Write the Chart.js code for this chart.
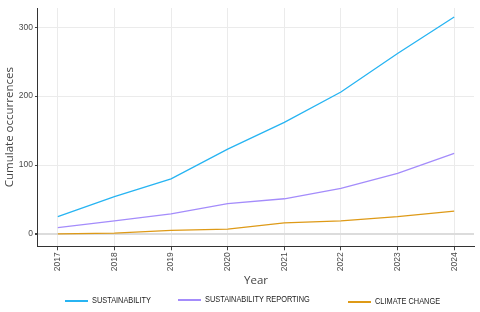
<!DOCTYPE html>
<html>
<head>
<meta charset="utf-8">
<script src="https://cdn.jsdelivr.net/npm/chart.js@4"></script>
<style>
  html, body { margin: 0; padding: 0; background: #fff; }
  .chart-container { width: 480px; height: 312px; position: relative; }
</style>
</head>
<body>
<div class="chart-container">
  <canvas id="chart"></canvas>
</div>
<script>
const years = [2017, 2018, 2019, 2020, 2021, 2022, 2023, 2024];
const yTicks = [0, 100, 200, 300];
const sustainability = [25, 54, 80, 123, 162, 206, 262, 315];
const sustainabilityReporting = [9, 19, 29, 44, 51, 66, 88, 117];
const climateChange = [0, 1, 5, 7, 16, 19, 25, 33];

const toPoints = (vals) => vals.map((v, i) => ({ x: years[i], y: v }));

// legend drawn by hand so the items can sit wide apart in a short strip
const bottomLegend = {
    id: "bottomLegend",
    afterDraw(chart) {
        const c = chart.ctx;
        const slots = [
            { x: 65, y: 301 },
            { x: 178, y: 300 },
            { x: 348, y: 302 },
        ];
        c.save();
        c.font = "9px 'Liberation Sans'";
        c.textBaseline = "middle";
        chart.data.datasets.forEach((ds, i) => {
            const s = slots[i];
            c.fillStyle = ds.borderColor;
            c.fillRect(s.x, s.y - 1, 23, 2);
            c.save();
            c.translate(s.x + 27, s.y);
            c.scale(0.82, 1); // narrow lettering like the original
            c.fillStyle = "#222";
            c.fillText(ds.label, 0, 0);
            c.restore();
        });
        c.restore();
    },
};

const ctx = document.getElementById("chart").getContext("2d");
new Chart(ctx, {
    type: "line",
    data: {
        datasets: [
            {
                label: "SUSTAINABILITY",
                data: toPoints(sustainability),
                borderColor: "#27b4f2",
                borderWidth: 1.3,
                pointRadius: 0,
            },
            {
                label: "SUSTAINABILITY REPORTING",
                data: toPoints(sustainabilityReporting),
                borderColor: "#a48cfb",
                borderWidth: 1.3,
                pointRadius: 0,
            },
            {
                label: "CLIMATE CHANGE",
                data: toPoints(climateChange),
                borderColor: "#de9a17",
                borderWidth: 1.3,
                pointRadius: 0,
            },
        ],
    },
    plugins: [bottomLegend],
    options: {
        animation: false,
        responsive: true,
        maintainAspectRatio: false,
        layout: { padding: { top: 8, right: 6, left: 3, bottom: 24 } },
        plugins: {
            tooltip: { enabled: false },
            legend: { display: false },
        },
        scales: {
            x: {
                type: "linear",
                min: 2016.65,
                max: 2024.35,
                afterBuildTicks: (axis) => {
                    axis.ticks = years.map((v) => ({ value: v }));
                },
                ticks: {
                    minRotation: 90,
                    maxRotation: 90,
                    padding: 2,
                    color: "#4a4a4a",
                    font: { family: "Liberation Sans", size: 8.5 },
                    callback: (v) => String(v),
                },
                grid: {
                    color: "#ebebeb",
                    lineWidth: 1,
                    tickLength: 4,
                    tickColor: "#444",
                },
                border: { color: "#333", width: 1 },
                title: {
                    display: true,
                    text: "Year",
                    color: "#444",
                    padding: { top: 1, bottom: 0 },
                    font: { family: "Open Sans", size: 11.5 },
                },
            },
            y: {
                min: -18,
                max: 328,
                afterBuildTicks: (axis) => {
                    axis.ticks = yTicks.map((v) => ({ value: v }));
                },
                ticks: {
                    color: "#4a4a4a",
                    font: { family: "Liberation Sans", size: 8.5 },
                    padding: 2,
                },
                grid: {
                    color: (c) => (c.tick && c.tick.value === 0 ? "#dcdcdc" : "#ebebeb"),
                    lineWidth: (c) => (c.tick && c.tick.value === 0 ? 2 : 1),
                    tickLength: 3,
                    tickColor: "#444",
                },
                border: { color: "#333", width: 1 },
                title: {
                    display: true,
                    text: "Cumulate occurrences",
                    color: "#444",
                    padding: { top: 0, bottom: 0 },
                    font: { family: "Open Sans", size: 11.5 },
                },
            },
        },
    },
});
</script>
</body>
</html>
